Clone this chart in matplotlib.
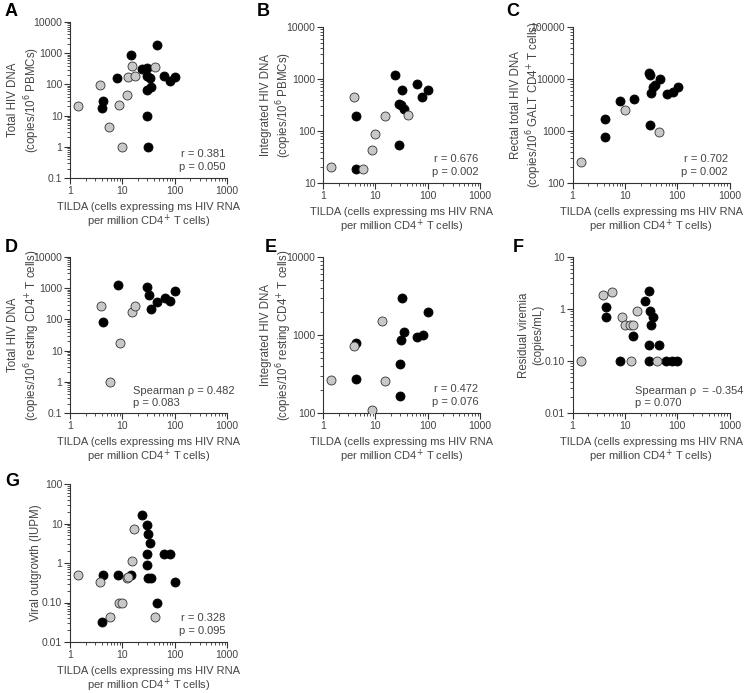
import numpy as np
import matplotlib
matplotlib.use("Agg")
import matplotlib.pyplot as plt
from matplotlib.ticker import FixedLocator, FixedFormatter, LogLocator, NullFormatter

plt.rcParams['font.family'] = ['Liberation Sans', 'DejaVu Sans']

# ---- data ----
# A: total HIV DNA per 10^6 PBMCs
a_gray_x = [1.43, 3.8, 5.6, 8.7, 10, 12.4, 13, 15, 17.2, 42.8]
a_gray_y = [21, 95, 4.2, 22, 1.0, 45, 175, 380, 185, 370]
a_black_x = [4.2, 4.1, 8.0, 14.4, 24, 29.5, 29, 34, 29, 35.5, 29, 30.5, 46, 63.5, 80.7, 102]
a_black_y = [29, 18, 160, 850, 320, 340, 190, 165, 68, 80, 9.5, 1.0, 1900, 180, 125, 170]

# B: integrated HIV DNA per 10^6 PBMCs
b_gray_x = [1.44, 3.84, 5.8, 8.7, 10, 15, 41.6]
b_gray_y = [20.5, 450, 18.5, 43, 88, 195, 200]
b_black_x = [4.3, 4.2, 23.9, 32.9, 28.5, 30.7, 35, 28, 62.7, 79, 100]
b_black_y = [195, 18.5, 1220, 620, 325, 315, 260, 55, 800, 450, 620]

# C: rectal total HIV DNA per 10^6 GALT CD4+ T cells
c_gray_x = [1.43, 10.2, 44]
c_gray_y = [256, 2540, 960]
c_black_x = [4.2, 4.2, 8.0, 15, 29.3, 30, 32, 34, 37, 47, 29.7, 65, 82, 102]
c_black_y = [1720, 750, 3750, 4100, 12800, 11800, 5500, 6900, 7800, 9800, 1280, 5150, 5550, 6900]

# D: total HIV DNA per 10^6 resting CD4+ T cells
d_gray_x = [3.88, 8.85, 5.7, 15, 17.2]
d_gray_y = [262, 18, 1.0, 175, 262]
d_black_x = [8.1, 4.3, 30, 32.3, 35.9, 46.8, 65.6, 82, 103]
d_black_y = [1230, 84, 1100, 620, 210, 350, 500, 400, 830]

# E: integrated HIV DNA per 10^6 resting CD4+ T cells
e_gray_x = [1.45, 3.95, 8.8, 13.3, 15.4]
e_gray_y = [268, 720, 110, 1500, 258]
e_black_x = [4.35, 4.3, 32, 35, 31, 29.3, 29, 63.6, 80, 102]
e_black_y = [780, 272, 3000, 1100, 860, 425, 165, 930, 1000, 1950]

# F: residual viremia (copies/mL)
f_gray_x = [1.45, 3.9, 5.8, 8.8, 10.1, 12.4, 14.5, 16.8, 13.1, 41.6]
f_gray_y = [0.1, 1.85, 2.15, 0.71, 0.5, 0.5, 0.5, 0.9, 0.1, 0.1]
f_black_x = [4.4, 4.3, 14.3, 8.0, 24.2, 28.9, 30, 34.4, 31.2, 29, 45.4, 29, 61.6, 78, 98]
f_black_y = [1.1, 0.71, 0.3, 0.1, 1.4, 2.2, 0.92, 0.71, 0.5, 0.2, 0.2, 0.1, 0.1, 0.1, 0.1]

# G: viral outgrowth (IUPM)
g_gray_x = [1.45, 3.82, 5.7, 8.7, 10, 12.4, 13, 15, 16.9, 42.8]
g_gray_y = [0.5, 0.33, 0.042, 0.1, 0.1, 0.41, 0.43, 1.15, 7.4, 0.042]
g_black_x = [4.24, 4.1, 8.1, 14.8, 24, 30, 30.5, 33.4, 29.2, 29, 31.4, 35.8, 46, 63.5, 80.7, 102]
g_black_y = [0.5, 0.033, 0.5, 0.5, 16, 9.3, 5.5, 3.3, 1.65, 0.87, 0.41, 0.41, 0.1, 1.65, 1.65, 0.33]

x_ticks = [1, 10, 100, 1000]
x_ticklabels = ['1', '10', '100', '1000']
xlab = 'TILDA (cells expressing ms HIV RNA\nper million CD4$^{+}$ T cells)'

# letter, data, y ticks, y tick labels, y label, stats, (axes left, top, height), letter pos
panels = [
    ('A', a_gray_x, a_gray_y, a_black_x, a_black_y,
     [0.1, 1, 10, 100, 1000, 10000], ['0.1', '1', '10', '100', '1000', '10000'],
     'Total HIV DNA\n(copies/10$^{6}$ PBMCs)', 'r = 0.381\np = 0.050', (70, 22, 156), (5, 12)),
    ('B', b_gray_x, b_gray_y, b_black_x, b_black_y,
     [10, 100, 1000, 10000], ['10', '100', '1000', '10000'],
     'Integrated HIV DNA\n(copies/10$^{6}$ PBMCs)', 'r = 0.676\np = 0.002', (323, 27, 156), (257, 12)),
    ('C', c_gray_x, c_gray_y, c_black_x, c_black_y,
     [100, 1000, 10000, 100000], ['100', '1000', '10000', '100000'],
     'Rectal total HIV DNA\n(copies/10$^{6}$ GALT CD4$^{+}$ T cells)', 'r = 0.702\np = 0.002',
     (572.5, 27, 156), (506, 12)),
    ('D', d_gray_x, d_gray_y, d_black_x, d_black_y,
     [0.1, 1, 10, 100, 1000, 10000], ['0.1', '1', '10', '100', '1000', '10000'],
     'Total HIV DNA\n(copies/10$^{6}$ resting CD4$^{+}$ T cells)', 'Spearman ρ = 0.482\np = 0.083',
     (70, 257, 156), (5, 247)),
    ('E', e_gray_x, e_gray_y, e_black_x, e_black_y,
     [100, 1000, 10000], ['100', '1000', '10000'],
     'Integrated HIV DNA\n(copies/10$^{6}$ resting CD4$^{+}$ T cells)', 'r = 0.472\np = 0.076',
     (323, 257, 156), (265, 247)),
    ('F', f_gray_x, f_gray_y, f_black_x, f_black_y,
     [0.01, 0.1, 1, 10], ['0.01', '0.10', '1', '10'],
     'Residual viremia\n(copies/mL)', 'Spearman ρ  = -0.354\np = 0.070', (572.5, 257, 156), (513, 247)),
    ('G', g_gray_x, g_gray_y, g_black_x, g_black_y,
     [0.01, 0.1, 1, 10, 100], ['0.01', '0.10', '1', '10', '100'],
     'Viral outgrowth (IUPM)', 'r = 0.328\np = 0.095', (70, 484, 158), (5, 482)),
]

W, H = 747, 693
fig = plt.figure(figsize=(W / 100, H / 100), dpi=100)
txt = '#444444'
axc = '#333333'
aw = 157

for letter, gx, gy, bx, by, yt, ytl, ylab, stat, (l, t, h), (lx, ly) in panels:
    ax = fig.add_axes([l / W, 1 - (t + h) / H, aw / W, h / H])
    ax.set_xscale('log')
    ax.set_yscale('log')
    ax.set_xlim(1, 1000)
    ax.set_ylim(yt[0], yt[-1])
    ax.scatter(bx, by, s=42, c='black', edgecolors='black', linewidths=0.6, zorder=3)
    ax.scatter(gx, gy, s=42, c='#c8c8c8', edgecolors='#333333', linewidths=0.6, zorder=4)

    for sp in ['top', 'right']:
        ax.spines[sp].set_visible(False)
    for sp in ['left', 'bottom']:
        ax.spines[sp].set_color(axc)
        ax.spines[sp].set_linewidth(0.8)

    ax.xaxis.set_major_locator(FixedLocator(x_ticks))
    ax.xaxis.set_major_formatter(FixedFormatter(x_ticklabels))
    ax.yaxis.set_major_locator(FixedLocator(yt))
    ax.yaxis.set_major_formatter(FixedFormatter(ytl))
    for axis in (ax.xaxis, ax.yaxis):
        axis.set_minor_locator(LogLocator(base=10, subs=np.arange(2, 10)))
        axis.set_minor_formatter(NullFormatter())
    ax.tick_params(which='major', direction='out', length=4, width=0.8, color=axc,
                   labelsize=7.5, labelcolor=txt, pad=1.5)
    ax.tick_params(which='minor', direction='out', length=2, width=0.6, color=axc)

    ax.set_xlabel(xlab, fontsize=8, color=txt, labelpad=4.5, linespacing=1.05)
    ax.set_ylabel(ylab, fontsize=8.3, color=txt, linespacing=1.2)
    ax.yaxis.set_label_coords(-28.5 / aw, 0.5)

    if stat.startswith('Spearman'):
        ax.text(0.40, 0.03, stat, transform=ax.transAxes, ha='left', va='bottom',
                fontsize=8, color=txt, linespacing=1.35)
    else:
        ax.text(0.99, 0.04, stat, transform=ax.transAxes, ha='right', va='bottom',
                fontsize=8, color=txt, linespacing=1.35)

    fig.text(lx / W, 1 - ly / H, letter, fontsize=13, fontweight='bold',
             color='black', ha='left', va='center')

fig.savefig('out.png', dpi=100)
